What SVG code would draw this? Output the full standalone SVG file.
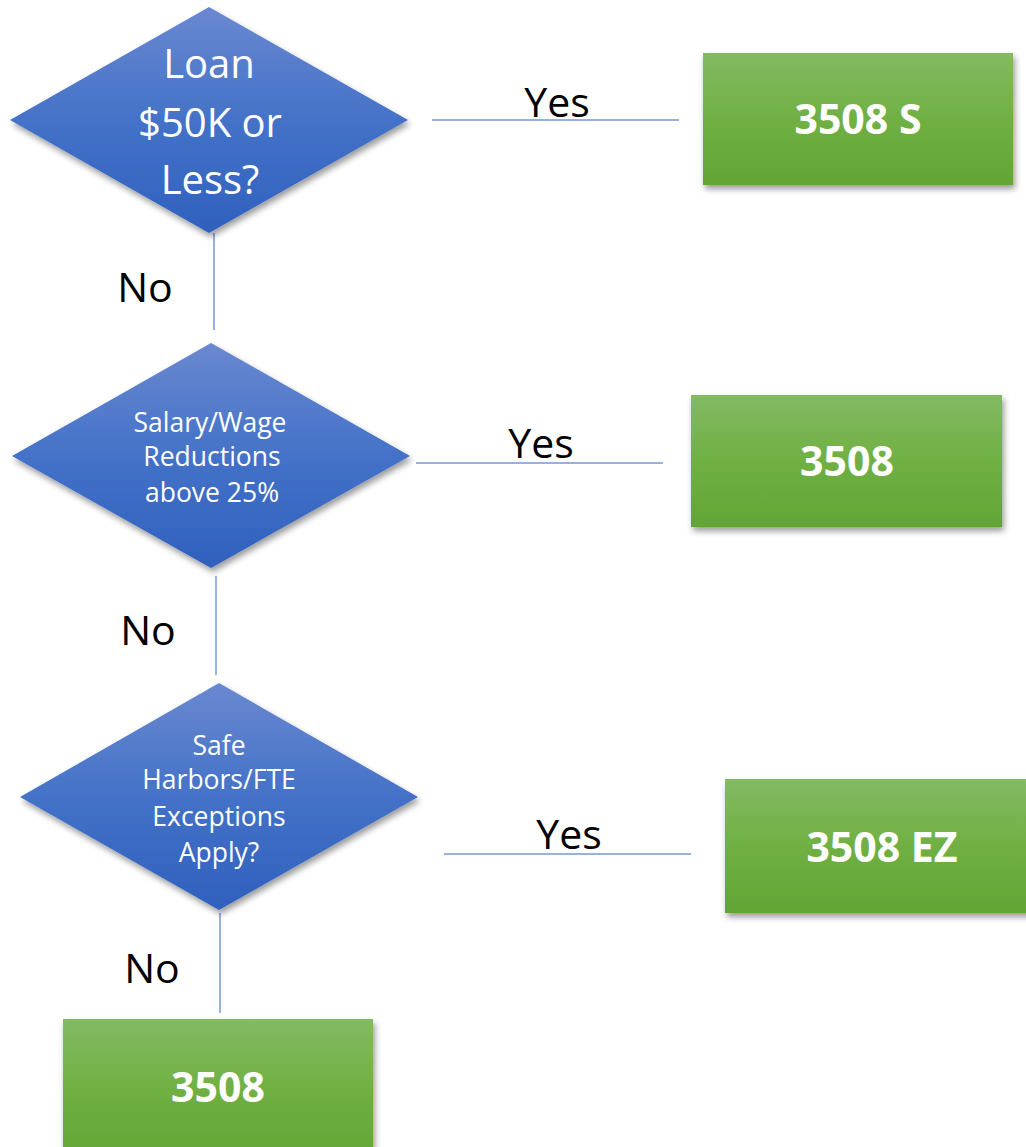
<svg xmlns="http://www.w3.org/2000/svg" width="1026" height="1147" viewBox="0 0 1026 1147">
<style>
.dia{fill:url(#gBlue);filter:url(#sh)}
.box{fill:url(#gGreen);filter:url(#sh)}
.dt{font-family:"Open Sans","Noto Sans",sans-serif;fill:#fff;text-anchor:middle}
.bt{font-family:"Open Sans","Noto Sans",sans-serif;font-weight:bold;font-size:41px;fill:#fff;text-anchor:middle}
.lbl{font-family:"Open Sans","Noto Sans",sans-serif;font-size:41px;fill:#000;text-anchor:middle}
.ln{stroke:#7597d6;stroke-width:1.5;fill:none}
</style>
<defs>
<linearGradient id="gBlue" x1="0" y1="0" x2="0" y2="1">
<stop offset="0" stop-color="#6a88d0"/>
<stop offset="0.5" stop-color="#4472c8"/>
<stop offset="1" stop-color="#2f60bd"/>
</linearGradient>
<linearGradient id="gGreen" x1="0" y1="0" x2="0" y2="1">
<stop offset="0" stop-color="#83ba63"/>
<stop offset="0.5" stop-color="#70b043"/>
<stop offset="1" stop-color="#62a535"/>
</linearGradient>
<filter id="sh" x="-10%" y="-10%" width="125%" height="130%">
<feDropShadow dx="2" dy="4" stdDeviation="3" flood-color="#000" flood-opacity="0.4"/>
</filter>
</defs>
<g id="connectors">
<line class="ln" x1="432" y1="120" x2="679" y2="120"/>
<line class="ln" x1="214" y1="233" x2="214" y2="330"/>
<line class="ln" x1="416" y1="463" x2="663" y2="463"/>
<line class="ln" x1="216" y1="576" x2="216" y2="675"/>
<line class="ln" x1="444" y1="854" x2="691" y2="854"/>
<line class="ln" x1="220" y1="913" x2="220" y2="1013"/>
<text class="lbl" x="557" y="117">Yes</text>
<text class="lbl" x="145" y="302">No</text>
<text class="lbl" x="541" y="458">Yes</text>
<text class="lbl" x="148" y="645">No</text>
<text class="lbl" x="569" y="849">Yes</text>
<text class="lbl" x="152" y="983">No</text>
</g>
<g id="d1">
<polygon class="dia" points="209,7 408,120 209,233 10,120"/>
<text class="dt" font-size="40" x="209" y="78">Loan</text>
<text class="dt" font-size="40" x="210" y="137">$50K or</text>
<text class="dt" font-size="40" x="210" y="194">Less?</text>
</g>
<g id="b1">
<rect class="box" x="703" y="53" width="310" height="132"/>
<text class="bt" x="858" y="134">3508 S</text>
</g>
<g id="d2">
<polygon class="dia" points="211,343 410,456 211,568 12,456"/>
<text class="dt" font-size="26.5" x="210" y="432">Salary/Wage</text>
<text class="dt" font-size="26.5" x="212" y="466">Reductions</text>
<text class="dt" font-size="26.5" x="212" y="502">above 25%</text>
</g>
<g id="b2">
<rect class="box" x="691" y="395" width="311" height="132"/>
<text class="bt" x="847" y="476">3508</text>
</g>
<g id="d3">
<polygon class="dia" points="219,683 418,797 219,910 20,797"/>
<text class="dt" font-size="26.5" x="219" y="755">Safe</text>
<text class="dt" font-size="26.5" x="219" y="789">Harbors/FTE</text>
<text class="dt" font-size="26.5" x="219" y="826">Exceptions</text>
<text class="dt" font-size="26.5" x="219" y="862">Apply?</text>
</g>
<g id="b3">
<rect class="box" x="725" y="779" width="312" height="134"/>
<text class="bt" x="882" y="862">3508 EZ</text>
</g>
<g id="b4">
<rect class="box" x="63" y="1019" width="310" height="140"/>
<text class="bt" x="218" y="1102">3508</text>
</g>
</svg>
